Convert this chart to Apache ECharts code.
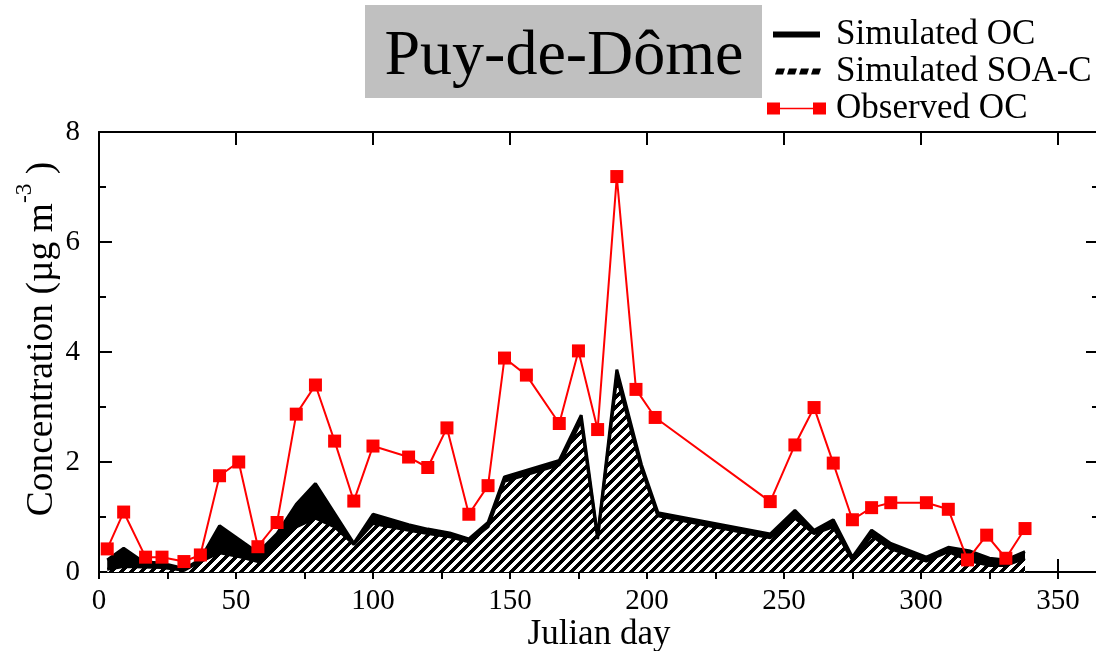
<!DOCTYPE html>
<html><head><meta charset="utf-8">
<script src="https://cdn.jsdelivr.net/npm/echarts@6/dist/echarts.min.js"></script>
<style>html,body{margin:0;padding:0;background:#fff}#c{width:1096px;height:651px}</style>
</head><body><div id="c"></div>
<script>
// ---- data ----
const obsDays = [3,9,17,23,31,37,44,51,58,65,72,79,86,93,100,113,120,127,135,142,148,156,168,175,182,189,196,203,245,254,261,268,275,282,289,302,310,317,324,331,338];
const obsOC   = [0.42,1.09,0.27,0.27,0.19,0.31,1.75,2.0,0.46,0.9,2.87,3.4,2.38,1.29,2.29,2.09,1.9,2.62,1.05,1.57,3.89,3.58,2.7,4.02,2.59,7.19,3.32,2.81,1.28,2.31,2.99,1.98,0.95,1.17,1.26,1.26,1.14,0.22,0.67,0.25,0.79];
const ocDays  = [3,9,16,23,28,31,37,44,58,65,72,79,93,100,113,120,128,135,142,148,168,176,182,189,198,204,245,254,261,268,275,282,289,302,310,318,325,331,338];
const simOC   = [0.22,0.43,0.19,0.16,0.10,0.05,0.23,0.84,0.35,0.70,1.23,1.61,0.52,1.05,0.86,0.78,0.71,0.60,0.90,1.73,2.03,2.85,0.65,3.68,1.95,1.08,0.69,1.12,0.76,0.95,0.27,0.76,0.52,0.27,0.45,0.38,0.25,0.22,0.37];
const soaDays = [3,9,16,23,31,37,44,51,58,65,72,79,86,93,100,113,120,128,135,142,148,168,176,182,189,198,204,245,254,261,268,275,282,289,302,310,318,325,331,338];
const simSOA  = [0.05,0.10,0.09,0.08,0.03,0.19,0.35,0.28,0.19,0.55,0.82,0.98,0.82,0.50,0.88,0.76,0.70,0.64,0.55,0.82,1.65,1.95,2.75,0.60,3.55,1.88,1.02,0.62,0.98,0.70,0.82,0.22,0.66,0.42,0.20,0.37,0.20,0.12,0.12,0.25];
const seriesNames = ['Simulated OC','Simulated SOA-C','Observed OC'];
const titleText = 'Puy-de-Dôme';
const xName = 'Julian day';

const FONT = 'Liberation Serif';
function pairs(xs, ys){ return xs.map((x,i)=>[x, ys[i]]); }
function makeHatch(){
  const s = 10, c = document.createElement('canvas');
  c.width = s; c.height = s;
  const ctx = c.getContext('2d'), img = ctx.createImageData(s, s);
  for (let y = 0; y < s; y++) for (let x = 0; x < s; x++) {
    const v = ((x + y) % s) < 5 ? 0 : 255, i = (y*s + x)*4;
    img.data[i] = v; img.data[i+1] = v; img.data[i+2] = v; img.data[i+3] = 255;
  }
  ctx.putImageData(img, 0, 0);
  return c;
}
const BOUND = 'M0,0L0.01,0L0,0.01Z M64,14L63.99,14L64,13.99Z ';
const iconSolid = 'path://' + BOUND + 'M6,4H53V10H6Z';
let dashes = '';
for (let i = 0; i < 4; i++) { const x0 = 8 + i*12; dashes += `M${x0+2},4L${x0+10},4L${x0+8},10L${x0},10Z `; }
const iconDash = 'path://' + BOUND + dashes;
const iconObs = 'path://' + BOUND + 'M0,1H13V13H0Z M46,1H59V13H46Z M13,6.25H46V7.75H13Z';

const axisCommonX = {type:'value', min:0, max:365, splitLine:{show:false}};
const black = '#000';
const chart = echarts.init(document.getElementById('c'), null, {renderer:'canvas'});
chart.setOption({
  animation:false,
  backgroundColor:'#fff',
  title:{text:titleText, left:564, top:57, textAlign:'center', textVerticalAlign:'middle', padding:0,
    textStyle:{fontFamily:FONT, fontSize:64, fontWeight:'normal', color:black}},
  graphic:[{type:'rect', shape:{x:365, y:5, width:397, height:93}, style:{fill:'#c0c0c0'}, z:-1}],
  legend:{orient:'vertical', left:762, top:12, itemWidth:64, itemHeight:14, itemGap:2, selectedMode:false,
    itemStyle:{borderWidth:0},
    textStyle:{fontFamily:FONT, fontSize:35, lineHeight:34, color:black},
    data:[{name:seriesNames[0], icon:iconSolid},{name:seriesNames[1], icon:iconDash},{name:seriesNames[2], icon:iconObs}]},
  grid:{left:99, top:132, width:1000, height:440, containLabel:false, outerBoundsMode:'none'},
  xAxis:[
    Object.assign({}, axisCommonX, {position:'bottom', interval:50,
      axisLine:{show:true, onZero:false, lineStyle:{color:black, width:2}},
      axisTick:{show:true, inside:true, length:13, lineStyle:{color:black, width:2}},
      axisLabel:{show:true, margin:15, fontFamily:FONT, fontSize:29, color:black, showMaxLabel:false},
      name:xName, nameLocation:'middle', nameGap:45, nameMoveOverlap:false,
      nameTextStyle:{fontFamily:FONT, fontSize:35, color:black}}),
    Object.assign({}, axisCommonX, {position:'bottom', interval:25,
      axisLine:{show:false}, axisTick:{show:true, inside:true, length:7, lineStyle:{color:black, width:2}},
      axisLabel:{show:false}}),
    Object.assign({}, axisCommonX, {position:'top', interval:50,
      axisLine:{show:true, onZero:false, lineStyle:{color:black, width:2}},
      axisTick:{show:true, inside:true, length:13, lineStyle:{color:black, width:2}},
      axisLabel:{show:false}}),
    Object.assign({}, axisCommonX, {position:'top', interval:25,
      axisLine:{show:false}, axisTick:{show:true, inside:true, length:7, lineStyle:{color:black, width:2}},
      axisLabel:{show:false}})
  ],
  yAxis:[
    {type:'value', min:0, max:8, interval:2, position:'left', splitLine:{show:false},
      axisLine:{show:true, onZero:false, lineStyle:{color:black, width:2}},
      axisTick:{show:true, inside:true, length:13, lineStyle:{color:black, width:2}},
      minorTick:{show:true, splitNumber:2, length:7, lineStyle:{color:black, width:2}},
      axisLabel:{margin:19, fontFamily:FONT, fontSize:29, color:black},
      name:'{a|Concentration (µg m}{s|-3}{a| )}', nameLocation:'middle', nameGap:28, nameMoveOverlap:false,
      nameTextStyle:{padding:[0,0,0,26], rich:{
        a:{fontFamily:FONT, fontSize:37.5, lineHeight:58, color:black},
        s:{fontFamily:FONT, fontSize:23.5, lineHeight:23, verticalAlign:'top', color:black}}}},
    {type:'value', min:0, max:8, interval:2, position:'right', splitLine:{show:false},
      axisLine:{show:true, onZero:false, lineStyle:{color:black, width:2}},
      axisTick:{show:true, inside:true, length:13, lineStyle:{color:black, width:2}},
      minorTick:{show:true, splitNumber:2, length:7, lineStyle:{color:black, width:2}},
      axisLabel:{show:false}}
  ],
  series:[
    {name:seriesNames[0], type:'line', xAxisIndex:0, yAxisIndex:0, data:pairs(ocDays, simOC),
      showSymbol:false, symbol:'none', color:black, z:2,
      lineStyle:{color:black, width:3}, areaStyle:{color:black, opacity:1}},
    {name:seriesNames[1], type:'line', xAxisIndex:0, yAxisIndex:0, data:pairs(soaDays, simSOA),
      showSymbol:false, symbol:'none', color:black, z:3,
      lineStyle:{color:black, width:3}, areaStyle:{color:{image:makeHatch(), repeat:'repeat'}, opacity:1}},
    {name:seriesNames[2], type:'line', xAxisIndex:0, yAxisIndex:0, data:pairs(obsDays, obsOC),
      symbol:'rect', symbolSize:13, showSymbol:true, color:'#ff0000', z:4,
      lineStyle:{color:'#ff0000', width:2}, itemStyle:{color:'#ff0000'}}
  ]
});
</script></body></html>
